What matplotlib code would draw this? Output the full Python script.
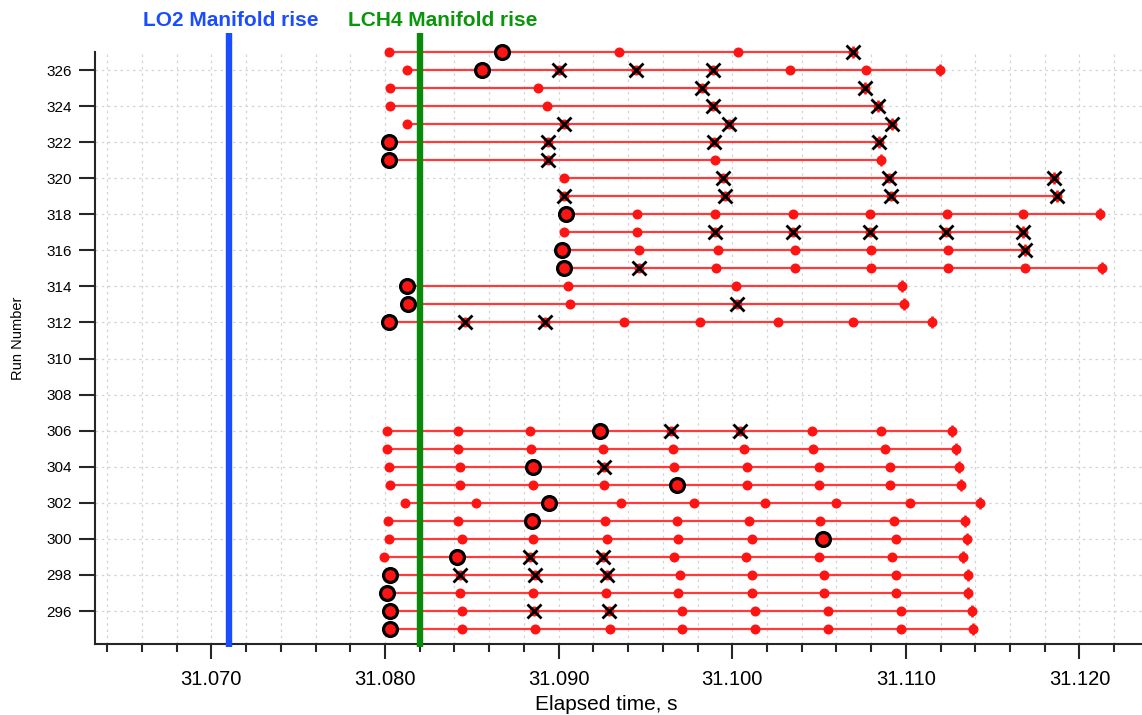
import matplotlib
matplotlib.use("Agg")
import matplotlib.pyplot as plt
from matplotlib.ticker import MultipleLocator, FormatStrFormatter

plt.rcParams['font.family'] = ['Liberation Sans', 'DejaVu Sans']

# ---------------- data ----------------
runs = [327, 326, 325, 324, 323, 322, 321, 320, 319, 318, 317, 316, 315, 314, 313, 312,
        306, 305, 304, 303, 302, 301, 300, 299, 298, 297, 296, 295]

times = {
    327: [31.08025, 31.08674, 31.09350, 31.10032, 31.10696],
    326: [31.08125, 31.08561, 31.09003, 31.09447, 31.09888, 31.10332, 31.10769, 31.11199],
    325: [31.08029, 31.08883, 31.09827, 31.10767],
    324: [31.08029, 31.08935, 31.09891, 31.10839],
    323: [31.08125, 31.09030, 31.09982, 31.10920],
    322: [31.08025, 31.08940, 31.09897, 31.10845],
    321: [31.08025, 31.08940, 31.09901, 31.10859],
    320: [31.09030, 31.09949, 31.10902, 31.11854],
    319: [31.09030, 31.09959, 31.10916, 31.11873],
    318: [31.09040, 31.09451, 31.09898, 31.10351, 31.10792, 31.11238, 31.11676, 31.12118],
    317: [31.09030, 31.09451, 31.09898, 31.10351, 31.10792, 31.11232, 31.11672],
    316: [31.09021, 31.09461, 31.09920, 31.10361, 31.10801, 31.11241, 31.11688],
    315: [31.09030, 31.09461, 31.09909, 31.10361, 31.10801, 31.11241, 31.11688, 31.12132],
    314: [31.08126, 31.09053, 31.10022, 31.10979],
    313: [31.08134, 31.09063, 31.10030, 31.10989],
    312: [31.08025, 31.08461, 31.08921, 31.09374, 31.09812, 31.10261, 31.10696, 31.11149],
    306: [31.08011, 31.08423, 31.08835, 31.09241, 31.09649, 31.10045, 31.10457, 31.10859, 31.11267],
    305: [31.08011, 31.08423, 31.08843, 31.09254, 31.09660, 31.10069, 31.10466, 31.10878, 31.11290],
    304: [31.08025, 31.08433, 31.08852, 31.09260, 31.09667, 31.10087, 31.10500, 31.10910, 31.11308],
    303: [31.08029, 31.08433, 31.08852, 31.09260, 31.09680, 31.10087, 31.10500, 31.10910, 31.11318],
    302: [31.08117, 31.08523, 31.08944, 31.09361, 31.09782, 31.10188, 31.10600, 31.11021, 31.11427],
    301: [31.08016, 31.08423, 31.08848, 31.09269, 31.09681, 31.10098, 31.10508, 31.10929, 31.11343],
    300: [31.08025, 31.08446, 31.08852, 31.09279, 31.09690, 31.10112, 31.10520, 31.10941, 31.11350],
    299: [31.07993, 31.08414, 31.08835, 31.09254, 31.09667, 31.10079, 31.10500, 31.10920, 31.11327],
    298: [31.08029, 31.08433, 31.08862, 31.09279, 31.09700, 31.10112, 31.10529, 31.10941, 31.11360],
    297: [31.08011, 31.08431, 31.08852, 31.09273, 31.09690, 31.10112, 31.10529, 31.10941, 31.11360],
    296: [31.08029, 31.08446, 31.08858, 31.09292, 31.09710, 31.10131, 31.10549, 31.10970, 31.11379],
    295: [31.08029, 31.08446, 31.08862, 31.09294, 31.09710, 31.10131, 31.10552, 31.10970, 31.11385],
}

# d = plain point, c = circled point, x = crossed point
kinds = {
    327: "dcddx", 326: "dcxxxddd", 325: "ddxx", 324: "ddxx", 323: "dxxx",
    322: "cxxx", 321: "cxdd", 320: "dxxx", 319: "xxxx", 318: "cddddddd",
    317: "ddxxxxx", 316: "cdddddx", 315: "cxdddddd", 314: "cddd", 313: "cdxd",
    312: "cxxddddd",
    306: "dddcxxddd", 305: "ddddddddd", 304: "ddcxddddd", 303: "ddddcdddd",
    302: "ddcdddddd", 301: "ddcdddddd", 300: "ddddddcdd", 299: "dcxxddddd",
    298: "cxxxddddd", 297: "cdddddddd", 296: "cdxxddddd", 295: "cdddddddd",
}

lo2_rise = 31.0710
lch4_rise = 31.0820
event_labels = ["LO2 Manifold rise", "LCH4 Manifold rise"]
event_label_x = [31.07113, 31.08332]

x_limits = (31.0633, 31.1236)
y_limits = (294.17, 327.0)

# ---------------- figure ----------------
fig = plt.figure(figsize=(11.42, 7.15), dpi=100)
ax = fig.add_axes([95 / 1142, 1 - 644 / 715, 1 - 95 / 1142, (644 - 52) / 715])

RED = '#ff1414'
LINE_RED = '#ff3a3a'

for r in runs:
    t = times[r]
    k = kinds[r]
    ax.plot(t, [r] * len(t), color=LINE_RED, lw=1.6, marker='o', ms=7.2,
            mfc=RED, mec=RED, mew=0, zorder=3, clip_on=False)
    ax.plot([t[-1]], [r], marker='|', ms=9, mew=1.8, color=RED, zorder=3, clip_on=False)
    ct = [ti for ti, ki in zip(t, k) if ki == 'c']
    xt = [ti for ti, ki in zip(t, k) if ki == 'x']
    if ct:
        ax.plot(ct, [r] * len(ct), ls='none', marker='o', ms=10, mfc=RED,
                mec='black', mew=2.3, zorder=5, clip_on=False)
    if xt:
        ax.plot(xt, [r] * len(xt), ls='none', marker='x', ms=9.5, mew=2,
                color='black', zorder=6, clip_on=False)

ytop = y_limits[1] + 19 / 18.03
ybot = y_limits[0] - 2.5 / 18.03
ax.plot([lo2_rise, lo2_rise], [ybot, ytop], color='#1a4dff', lw=4.6,
        solid_capstyle='butt', zorder=4, clip_on=False)
ax.plot([lch4_rise, lch4_rise], [ybot, ytop], color='#0a8a0a', lw=4.6,
        solid_capstyle='butt', zorder=4, clip_on=False)

label_y = y_limits[1] + 31 / 18.03
ax.text(event_label_x[0], label_y, event_labels[0], color='#1a4dff', fontsize=15,
        fontweight='bold', ha='center', va='center', clip_on=False)
ax.text(event_label_x[1], label_y, event_labels[1], color='#0a960a', fontsize=15,
        fontweight='bold', ha='center', va='center', clip_on=False)

ax.set_xlim(*x_limits)
ax.set_ylim(*y_limits)

ax.xaxis.set_major_locator(MultipleLocator(0.01))
ax.xaxis.set_minor_locator(MultipleLocator(0.002))
ax.xaxis.set_major_formatter(FormatStrFormatter('%.3f'))
ax.set_yticks(list(range(296, 327, 2)))

ax.grid(which='both', axis='x', color='#d4d4d4', ls=(0, (2, 3)), lw=0.9)
ax.grid(which='major', axis='y', color='#d4d4d4', ls=(0, (2, 3)), lw=0.9)
ax.set_axisbelow(True)

for s in ('top', 'right'):
    ax.spines[s].set_visible(False)
for s in ('left', 'bottom'):
    ax.spines[s].set_color('#262626')
    ax.spines[s].set_linewidth(1.5)

ax.tick_params(axis='x', which='major', direction='out', length=11, width=1.5,
               color='#262626', labelsize=14.5, pad=8)
ax.tick_params(axis='x', which='minor', direction='out', length=6, width=1.5,
               color='#262626')
ax.tick_params(axis='y', which='major', direction='out', length=11.5, width=1.5,
               color='#262626', labelsize=11, pad=5)

ax.set_xlabel("Elapsed time, s", fontsize=15)
ax.xaxis.set_label_coords((606 - 95) / 1047, -(705 - 644) / 592)
ax.xaxis.label.set_va('center')
ax.set_ylabel("Run Number", fontsize=10.5)
ax.yaxis.set_label_coords((18 - 95) / 1047, (644 - 338) / 592)
ax.yaxis.label.set_va('center')

fig.savefig("out.png", dpi=100)
